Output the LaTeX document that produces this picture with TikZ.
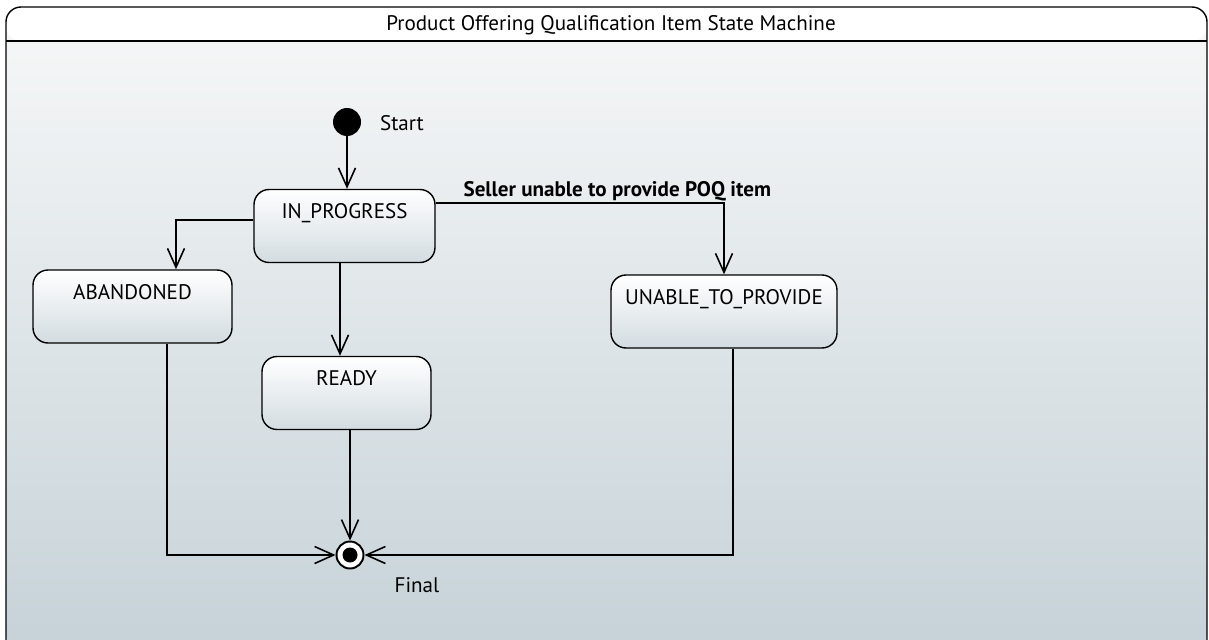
\documentclass[tikz,border=0pt]{standalone}
\usepackage{fontspec}
\setmainfont{PT Sans}
\usetikzlibrary{arrows.meta,positioning}

\definecolor{bgtop}{HTML}{F7F8F8}
\definecolor{bgbot}{HTML}{C6D2D8}
\definecolor{boxbot}{HTML}{D3DCE1}

\tikzset{
  statebox/.style={draw, line width=0.8pt, rounded corners=0.3cm,
    top color=white, bottom color=boxbot, minimum height=1.46cm,
    inner ysep=6pt, text height=10pt, text depth=18.5pt, font=\fontsize{12}{14}\selectfont},
  trans/.style={line width=0.9pt, -{Straight Barb[length=0.38cm,width=0.34cm,line width=0.9pt]}},
  lbl/.style={font=\fontsize{12}{14}\selectfont}
}

\begin{document}
\begin{tikzpicture}[x=0.02cm,y=-0.02cm]
\useasboundingbox (0,0) rectangle (1209,639);

% frame
\begin{scope}
\clip (0,0) rectangle (1209,639);
\shade[top color=bgtop, bottom color=bgbot, rounded corners=0.3cm] (6,7) rectangle (1207,650);
\fill[white, rounded corners=0.3cm] (6,7) -- (6,41) -- (1207,41) -- (1207,7) -- cycle;
\draw[line width=0.8pt, rounded corners=0.3cm] (6,650) -- (6,7) -- (1207,7) -- (1207,650);
\draw[line width=0.8pt] (6,41) -- (1207,41);
\end{scope}
\node(title)[lbl] at (611,25) {Product Offering Qualification Item State Machine};

% states
\node(start)[circle, fill=black, minimum size=0.56cm, inner sep=0pt] at (347,122) {};
\node(startlbl)[lbl] at (402,123) {Start};

\node(inprog)[statebox, minimum width=3.62cm] at (344.5,226) {IN\_PROGRESS};
\node(aband)[statebox, minimum width=3.98cm] at (132.5,306.5) {ABANDONED};
\node(ready)[statebox, minimum width=3.38cm] at (346.5,393) {READY};
\node(unable)[statebox, minimum width=4.52cm] at (724,311.5) {UNABLE\_TO\_PROVIDE};

\node(final)[circle, draw, line width=1.1pt, fill=white, minimum size=0.54cm, inner sep=0pt,
  path picture={\fill[black] (path picture bounding box.center) circle (0.15cm);}] at (350,555) {};
\node(finallbl)[lbl] at (417,585) {Final};

% transitions
\draw[trans] (start) -- (start |- inprog.north);
\draw[trans] ([yshift=0.12cm]inprog.west) -| ([xshift=0.87cm]aband.north);
\draw[trans] ([xshift=-0.09cm]inprog.south) -- ([xshift=-0.09cm]inprog.south |- ready.north);
\draw[trans] ([yshift=0.46cm]inprog.east) -| node[pos=0.315, above, inner sep=0.5pt, lbl, font=\bfseries\fontsize{12}{14}\selectfont]{Seller unable to provide POQ item} (unable.north);

\draw[trans] ([xshift=0.69cm]aband.south) |- (final);
\draw[trans] ([xshift=0.07cm]ready.south) -- ([xshift=0.07cm]ready.south |- final.north);
\draw[trans] ([xshift=0.18cm]unable.south) |- (final);

\end{tikzpicture}
\end{document}
